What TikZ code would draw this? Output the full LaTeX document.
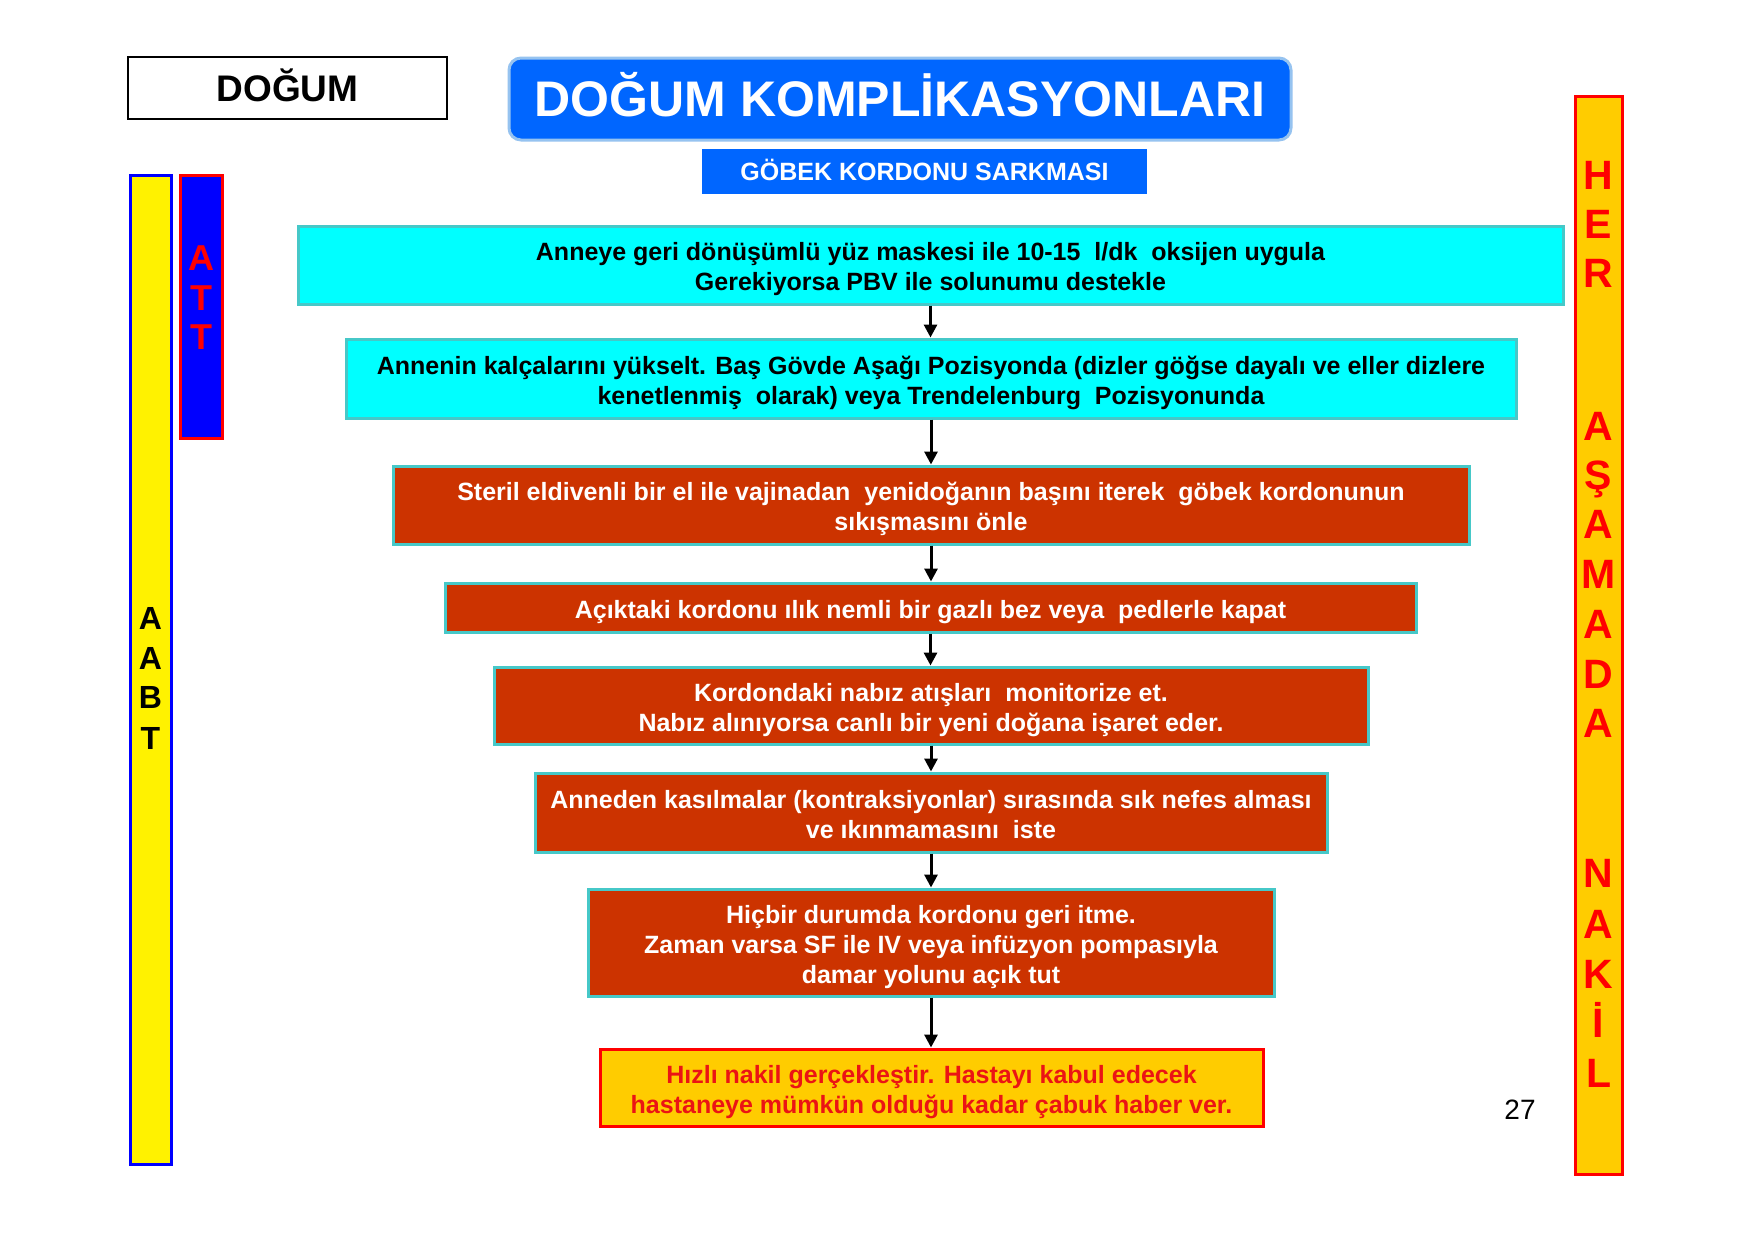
\documentclass[tikz,border=0pt]{standalone}
\usepackage{fontspec}
\setmainfont{Liberation Sans}
\usetikzlibrary{arrows.meta}
\definecolor{cyanbox}{RGB}{0,255,255}
\definecolor{tealline}{RGB}{70,200,200}
\definecolor{brick}{RGB}{204,51,0}
\definecolor{gold}{RGB}{255,204,0}
\definecolor{titleblue}{RGB}{0,102,255}
\definecolor{titleedge}{RGB}{150,195,240}
\definecolor{hred}{RGB}{255,0,0}
\definecolor{textred}{RGB}{235,20,20}
\definecolor{barblue}{RGB}{0,0,255}
\newcommand{\ftop}{\rule{0pt}{27pt}}
\newcommand{\fbot}{\rule[-5pt]{0pt}{5pt}}
\begin{document}
\begin{tikzpicture}[x=1pt,y=-1pt,
  stepbox/.style={draw=tealline, line width=3pt, inner sep=0pt, align=center,
    font=\fontsize{25}{30}\selectfont\bfseries},
  cyanstep/.style={stepbox, fill=cyanbox, text=black},
  redstep/.style={stepbox, fill=brick, text=white},
  goldstep/.style={stepbox, draw=hred, fill=gold, text=textred},
  flow/.style={line width=3pt, -{Triangle[length=13pt,width=13pt]}},
  bar/.style={line width=3pt, inner sep=0pt},
  rletter/.style={anchor=base, text=hred, inner sep=0pt, font=\fontsize{41}{41}\selectfont\bfseries},
  aletter/.style={anchor=base, text=black, inner sep=0pt, font=\fontsize{32}{32}\selectfont\bfseries},
  tletter/.style={anchor=base, text=hred, inner sep=0pt, font=\fontsize{36}{36}\selectfont\bfseries}
]
\useasboundingbox[fill=white] (0,0) rectangle (1755,1240);

% header boxes
\node[draw=black, line width=1.5pt, minimum width=319pt, minimum height=62pt, inner sep=0pt,
  text height=26.5pt, text depth=0pt,
  font=\fontsize{37}{37}\selectfont\bfseries] (dogum) at (287.5,88) {DOĞUM};
\node[draw=titleedge, fill=titleblue, line width=3pt, rounded corners=12pt,
  minimum width=782pt, minimum height=82pt, inner sep=0pt, text=white,
  text height=35.8pt, text depth=0pt,
  font=\fontsize{50}{50}\selectfont\bfseries] (title) at (900,99) {DOĞUM KOMPLİKASYONLARI};
\node[fill=titleblue, minimum width=445pt, minimum height=45pt, inner sep=0pt, text=white,
  text height=17.9pt, text depth=0pt,
  font=\fontsize{25}{25}\selectfont\bfseries] (sub) at (924.5,171.5) {GÖBEK KORDONU SARKMASI};

% side bars
\node[bar, draw=barblue, fill=yellow, minimum width=41pt, minimum height=989pt] (aabt) at (150.5,669.5) {};
\node[bar, draw=hred, fill=barblue, minimum width=42pt, minimum height=263pt] (att) at (201,306.5) {};
\node[bar, draw=hred, fill=gold, minimum width=47pt, minimum height=1078pt] (her) at (1598.5,635) {};

\foreach \l/\yy [count=\i] in {A/618,A/658,B/697,T/738}
  \node[aletter] (aabtl\i) at (150.5,{\yy+11.5}) {\l};
\foreach \l/\yy [count=\i] in {A/257,T/297,T/336}
  \node[tletter] (attl\i) at (201,{\yy+13}) {\l};
\foreach \l/\yy [count=\i] in {H/174.6,E/223.9,R/273.1,A/425.3,Ş/474.6,A/523.8,M/574.2,A/623.4,D/673.8,A/723.1,N/873.1,A/923.4,K/973.8,İ/1023.1,L/1072.3}
  \node[rletter] (herl\i) at (1598.5,{\yy+14.7}) {\l};

% flow boxes
\node[cyanstep, minimum width=1265pt, minimum height=78pt] (b1) at (930.5,265)
  {\ftop Anneye geri dönüşümlü yüz maskesi ile 10-15 \ l/dk \ oksijen uygula\\Gerekiyorsa PBV ile solunumu destekle\fbot};
\node[cyanstep, minimum width=1170pt, minimum height=79pt] (b2) at (931,378.5)
  {\ftop Annenin kalçalarını yükselt. Baş Gövde Aşağı Pozisyonda (dizler göğse dayalı ve eller dizlere\\kenetlenmiş \ olarak) veya Trendelenburg \ Pozisyonunda\fbot};
\node[redstep, minimum width=1076pt, minimum height=78pt] (b3) at (931,505)
  {\ftop Steril eldivenli bir el ile vajinadan \ yenidoğanın başını iterek \ göbek kordonunun\\sıkışmasını önle\fbot};
\node[redstep, minimum width=971pt, minimum height=49pt] (b4) at (930.5,607.5)
  {\ftop Açıktaki kordonu ılık nemli bir gazlı bez veya \ pedlerle kapat\fbot};
\node[redstep, minimum width=874pt, minimum height=77pt] (b5) at (931,705.5)
  {\ftop Kordondaki nabız atışları \ monitorize et.\\Nabız alınıyorsa canlı bir yeni doğana işaret eder.\fbot};
\node[redstep, minimum width=792pt, minimum height=79pt] (b6) at (931,812.5)
  {\ftop Anneden kasılmalar (kontraksiyonlar) sırasında sık nefes alması\\ve ıkınmamasını \ iste\fbot};
\node[redstep, minimum width=686pt, minimum height=107pt] (b7) at (931,942.5)
  {\ftop Hiçbir durumda kordonu geri itme.\\Zaman varsa SF ile IV veya infüzyon pompasıyla\\damar yolunu açık tut\fbot};
\node[goldstep, minimum width=663pt, minimum height=77pt] (b8) at (931.5,1087.5)
  {\ftop Hızlı nakil gerçekleştir. Hastayı kabul edecek\\hastaneye mümkün olduğu kadar çabuk haber ver.\fbot};

% arrows
\foreach \a/\b in {b1/b2,b2/b3,b3/b4,b4/b5,b5/b6,b6/b7,b7/b8}
  \draw[flow] (\a.south) -- (\a.south |- \b.north);

\node[font=\fontsize{28}{28}\selectfont] (page) at (1520,1110) {27};
\end{tikzpicture}
\end{document}
